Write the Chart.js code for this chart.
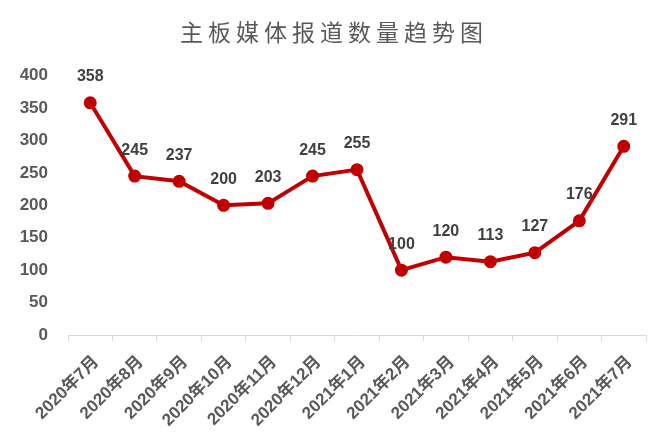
<!DOCTYPE html>
<html>
<head>
<meta charset="utf-8">
<script src="https://cdn.jsdelivr.net/npm/chart.js@4/dist/chart.umd.min.js"></script>
<style>
  html, body { margin: 0; padding: 0; background: #fff; }
  #wrap { width: 668px; height: 448px; }
</style>
</head>
<body>
<div id="wrap"><canvas id="c" width="668" height="448"></canvas></div>
<script>
// 主板媒体报道数量 – monthly counts
const months = ["2020年7月", "2020年8月", "2020年9月", "2020年10月", "2020年11月", "2020年12月",
  "2021年1月", "2021年2月", "2021年3月", "2021年4月", "2021年5月", "2021年6月", "2021年7月"];
const counts = [358, 245, 237, 200, 203, 245, 255, 100, 120, 113, 127, 176, 291];
const yTicks = [0, 50, 100, 150, 200, 250, 300, 350, 400];

const FONT = "'Liberation Sans', Arial, sans-serif";
const CJK = "'Liberation Sans', 'Noto Sans CJK SC', sans-serif";

// value labels above each point; title gets wider letter spacing and is
// re-centred on the full canvas (layout padding only applies to the right)
const pointLabels = {
  id: "pointLabels",
  beforeDraw(chart) {
    const tb = chart.titleBlock;
    if (tb && !tb._spaced) {
      const orig = tb.draw.bind(tb);
      tb.draw = function (area) {
        const c = chart.ctx;
        c.save();
        c.translate(11, 0);
        c.letterSpacing = "5px";
        orig(area);
        c.restore();
      };
      tb._spaced = true;
    }
  },
  afterDatasetsDraw(chart) {
    const ctx = chart.ctx;
    const meta = chart.getDatasetMeta(0);
    ctx.save();
    ctx.font = "bold 16px " + FONT;
    ctx.fillStyle = "#404040";
    ctx.textAlign = "center";
    ctx.textBaseline = "middle";
    meta.data.forEach((pt, i) => {
      ctx.fillText(String(counts[i]), pt.x, pt.y - 26);
    });
    ctx.restore();
  }
};

new Chart(document.getElementById("c"), {
  type: "line",
  data: {
    labels: months,
    datasets: [{
      data: counts,
      borderColor: "#C00000",
      backgroundColor: "#C00000",
      borderWidth: 4,
      pointRadius: 4.5,
      pointHoverRadius: 4.5,
      pointBackgroundColor: "#C00000",
      pointBorderColor: "#C00000",
      tension: 0
    }]
  },
  options: {
    responsive: false,
    animation: false,
    layout: { padding: { left: 0, right: 22, top: 0, bottom: 0 } },
    plugins: {
      legend: { display: false },
      tooltip: { enabled: false },
      title: {
        display: true,
        text: "主板媒体报道数量趋势图",
        color: "#595959",
        font: { family: "'Noto Sans CJK SC', sans-serif", size: 23, weight: "normal", lineHeight: 1.2 },
        padding: { top: 18, bottom: 30 }
      }
    },
    scales: {
      y: {
        min: 0,
        max: 400,
        afterBuildTicks: s => { s.ticks = yTicks.map(v => ({ value: v })); },
        afterFit: s => { s.width = 68; },
        border: { display: false },
        grid: { display: false },
        ticks: {
          color: "#595959",
          padding: 12,
          font: { family: FONT, size: 17, weight: "bold" }
        }
      },
      x: {
        offset: true,
        afterFit: s => { s.height = 113; },
        border: { display: true, color: "#d9d9d9", width: 1 },
        grid: { display: true, offset: true, drawOnChartArea: false, drawTicks: true, tickLength: 6, color: "#d9d9d9" },
        ticks: {
          color: "#595959",
          minRotation: 45,
          maxRotation: 45,
          autoSkip: false,
          padding: 11,
          labelOffset: 6,
          font: { family: CJK, size: 17, weight: "bold" }
        }
      }
    }
  },
  plugins: [pointLabels]
});
</script>
</body>
</html>
